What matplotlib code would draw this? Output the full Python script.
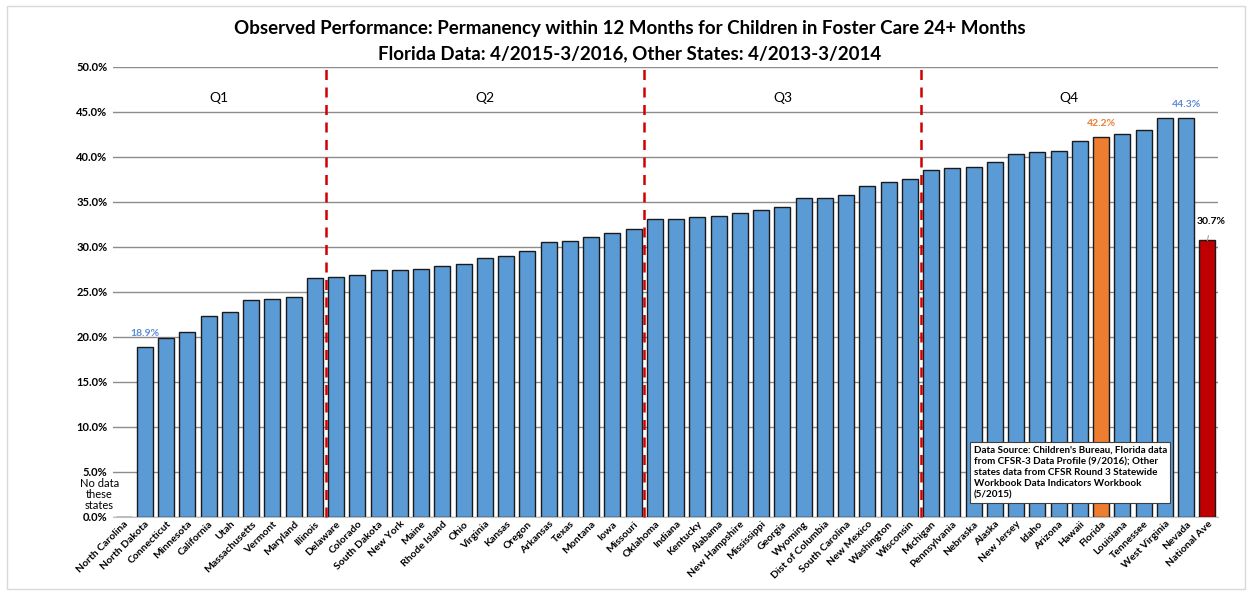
import numpy as np
import matplotlib
matplotlib.use("Agg")
from matplotlib import pyplot as plt
from matplotlib.patches import Rectangle

plt.rcParams['font.family'] = ['Lato', 'DejaVu Sans']

states = ["North Carolina", "North Dakota", "Connecticut", "Minnesota", "California", "Utah",
          "Massachusetts", "Vermont", "Maryland", "Illinois", "Delaware", "Colorado",
          "South Dakota", "New York", "Maine", "Rhode Island", "Ohio", "Virginia", "Kansas",
          "Oregon", "Arkansas", "Texas", "Montana", "Iowa", "Missouri", "Oklahoma", "Indiana",
          "Kentucky", "Alabama", "New Hampshire", "Mississippi", "Georgia", "Wyoming",
          "Dist of Columbia", "South Carolina", "New Mexico", "Washington", "Wisconsin",
          "Michigan", "Pennsylvania", "Nebraska", "Alaska", "New Jersey", "Idaho", "Arizona",
          "Hawaii", "Florida", "Louisiana", "Tennessee", "West Virginia", "Nevada", "National Ave"]
values = [np.nan, 18.9, 19.9, 20.5, 22.3, 22.8, 24.1, 24.2, 24.4, 26.5, 26.6, 26.9,
          27.4, 27.4, 27.5, 27.9, 28.1, 28.8, 29.0, 29.5, 30.5, 30.6, 31.1, 31.5, 32.0,
          33.1, 33.1, 33.3, 33.4, 33.8, 34.1, 34.4, 35.4, 35.4, 35.8, 36.7, 37.2, 37.5,
          38.5, 38.7, 38.9, 39.4, 40.3, 40.5, 40.6, 41.7, 42.2, 42.5, 43.0, 44.3, 44.3, 30.7]
quartile_ends = [10, 25, 38]
quartile_names = ["Q1", "Q2", "Q3", "Q4"]
labeled = {"North Dakota": "#5B8BD6", "Florida": "#ED7D31", "Nevada": "#5B8BD6"}

colors = []
for s in states:
    if s == "Florida":
        colors.append("#ED7D31")
    elif s == "National Ave":
        colors.append("#C00000")
    else:
        colors.append("#5B9BD5")

fig = plt.figure(figsize=(12.5, 5.92), dpi=100)
ax = fig.add_axes([0.0904, 0.1272, 0.8840, 0.7601])

x = np.arange(len(states))
ax.bar(x, np.nan_to_num(values), width=0.75, color=colors, edgecolor="#1a1a1a",
       linewidth=1, zorder=3)

ax.set_xlim(-0.5, len(states) - 0.5)
ax.set_ylim(0, 50)
ax.set_yticks(np.arange(0, 51, 5))
ax.set_yticklabels([f"{v:.1f}%" for v in np.arange(0, 51, 5)], fontsize=8, fontweight="bold")
ax.yaxis.grid(True, color="#8c8c8c", linewidth=1, zorder=0)
ax.tick_params(axis="y", length=0, pad=4)
ax.tick_params(axis="x", length=0, pad=2)
for sp in ["top", "right", "left"]:
    ax.spines[sp].set_visible(False)
ax.spines["bottom"].set_color("#bfbfbf")
ax.set_xticks(x)
ax.set_xticklabels(states, rotation=45, ha="right", rotation_mode="anchor",
                   fontsize=7.5, fontweight="bold")

# quartile separators and labels
bounds = [-0.5] + [e - 0.5 for e in quartile_ends] + [len(states) - 0.5]
for b in bounds[1:-1]:
    ax.plot([b, b], [0, 50], color="#D00000", linestyle=(0, (4, 3)), linewidth=1.8,
            zorder=4, clip_on=False)
for name, lo, hi in zip(quartile_names, bounds[:-1], bounds[1:]):
    ax.text((lo + hi) / 2, 46.5, name, ha="center", va="center", fontsize=10)

# value labels
for s, c in labeled.items():
    i = states.index(s)
    ax.text(i, values[i] + 1.0, f"{values[i]:.1f}%", ha="center", va="bottom",
            fontsize=7.5, fontweight="bold", color=c)
i = states.index("National Ave")
ax.annotate(f"{values[i]:.1f}%", xy=(i, values[i]), xytext=(i + 0.2, values[i] + 2.1),
            ha="center", va="center", fontsize=7.5, fontweight="bold",
            arrowprops=dict(arrowstyle="-", color="#a6a6a6", lw=0.8,
                            shrinkA=5, shrinkB=0),
            annotation_clip=False)

ax.text(-1.15, 2.5, "No data\nthese\nstates", ha="center", va="center", fontsize=8,
        linespacing=1.0, clip_on=False)

ax.text(40.0, 4.9, "Data Source: Children's Bureau, Florida data\n"
        "from CFSR-3 Data Profile (9/2016); Other\n"
        "states data from CFSR Round 3 Statewide\n"
        "Workbook Data Indicators Workbook\n"
        "(5/2015)", ha="left", va="center", fontsize=7.1, fontweight="bold",
        linespacing=1.3, zorder=6,
        bbox=dict(boxstyle="square,pad=0.35", facecolor="white", edgecolor="#404040",
                  linewidth=0.8))

fig.text(0.504, 0.952, "Observed Performance: Permanency within 12 Months for Children in Foster Care 24+ Months",
         ha="center", va="center", fontsize=13.5, fontweight="bold")
fig.text(0.504, 0.910, "Florida Data: 4/2015-3/2016, Other States: 4/2013-3/2014",
         ha="center", va="center", fontsize=13.5, fontweight="bold")

fig.patches.append(Rectangle((0.0056, 0.005), 0.99, 0.985, transform=fig.transFigure,
                             fill=False, edgecolor="#d9d9d9", linewidth=1))

fig.savefig("out.png", dpi=100)
